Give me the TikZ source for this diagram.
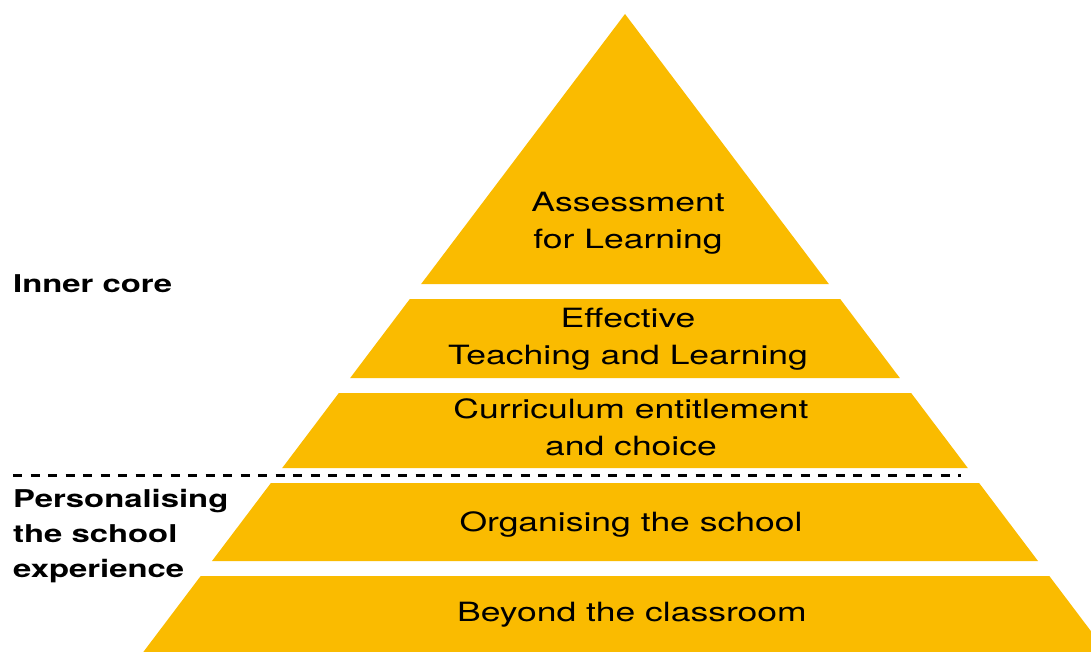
\documentclass[tikz,border=0pt]{standalone}
\usepackage{fontspec}
\setmainfont[FakeStretch=1.34]{TeX Gyre Heros}
\usepackage{tikz}
\usetikzlibrary{shapes}
\definecolor{amber}{RGB}{250,187,0}
\tikzset{
  tier/.style={fill=amber},
  tiertext/.style={align=center,anchor=base,inner sep=0pt,font=\fontsize{26.5}{37}\selectfont},
  sidetext/.style={align=left,anchor=base west,inner sep=0pt,font=\bfseries\fontsize{24.5}{35}\selectfont},
  divider/.style={line width=3pt,dash pattern=on 9pt off 8.5pt}
}
\newcommand{\hw}[1]{0.755*(#1-14)}
\begin{document}
\begin{tikzpicture}[x=1pt,y=-1pt]
	\useasboundingbox (0,0) rectangle (1091,652);
	\clip (0,0) rectangle (1091,652);
	\fill[tier] (625,14) -- ({625+\hw{284}},284) -- ({625-\hw{284}},284) -- cycle;
	\foreach \t/\b in {299/378,393/468,483/561,576/660}
		\fill[tier] ({625-\hw{\t}},\t) -- ({625+\hw{\t}},\t) -- ({625+\hw{\b}},\b) -- ({625-\hw{\b}},\b) -- cycle;
	
	% last line baselines (multi-line nodes sit on their last line)
	\node[tiertext] (afl) at (628,248) {Assessment\\for Learning};
	\node[tiertext] (etl) at (628,364) {Effective\\Teaching and Learning};
	\node[tiertext] (cur) at (631,455) {Curriculum entitlement\\and choice};
	\node[tiertext] (org) at (631,531) {Organising the school};
	\node[tiertext] (bey) at (632,621) {Beyond the classroom};
	
	\node[sidetext] (inner) at (13,292) {Inner core};
	\node[sidetext] (pers) at (13,577) {Personalising\\the school\\experience};
	
	\coordinate (dl) at (13,475);
	\coordinate (dr) at (961,475);
	\draw[divider] (dl) -- (dr);
\end{tikzpicture}
\end{document}
